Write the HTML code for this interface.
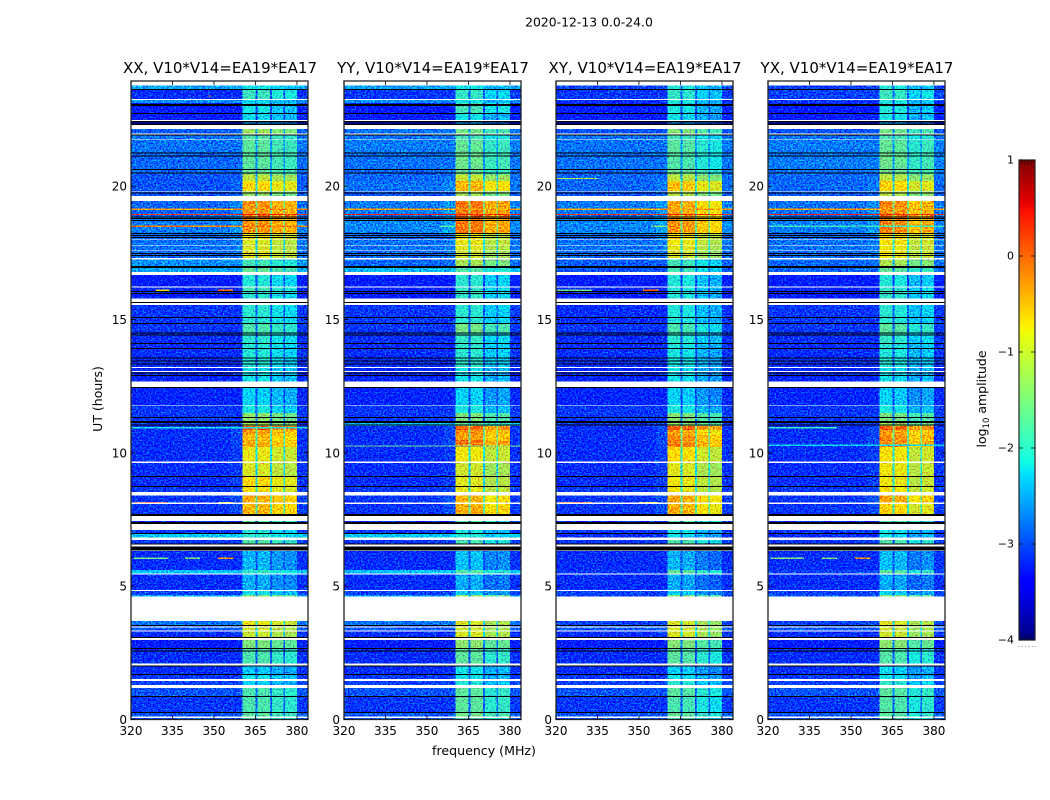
<!DOCTYPE html>
<html lang="en">
<head>
<meta charset="utf-8">
<title>2020-12-13 0.0-24.0 dynamic spectra</title>
<style>
html,body{margin:0;padding:0;background:#fff;width:1050px;height:800px;overflow:hidden}
svg{display:block}
text{font-family:"DejaVu Sans","Liberation Sans",sans-serif;fill:#000}
</style>
</head>
<body>
<svg id="figure" xmlns="http://www.w3.org/2000/svg" width="1050" height="800" viewBox="0 0 1050 800">
  <defs>
    <filter id="speckle" x="0" y="0" width="100%" height="100%" color-interpolation-filters="sRGB">
      <feTurbulence type="fractalNoise" baseFrequency="0.6 0.65" numOctaves="1" seed="4" result="n"/>
      <feColorMatrix in="n" type="matrix" values="0 0 0 0 .5  0 1.7 0 0 -.41  0 0 0 0 .5  0 0 0 0 1" result="g"/>
      <feComposite in="SourceGraphic" in2="g" operator="arithmetic" k1="0" k2="1" k3="1" k4="-.5" result="r"/>
      <feComposite in="r" in2="SourceAlpha" operator="in"/>
    </filter>
  </defs>
  <text x="589" y="26.5" font-size="12.4" text-anchor="middle">2020-12-13 0.0-24.0</text>
  <text x="484" y="755" font-size="12.6" text-anchor="middle">frequency (MHz)</text>
  <text x="102" y="399" font-size="12.5" text-anchor="middle" transform="rotate(-90 102 399)">UT (hours)</text>
  <text x="986" y="399" font-size="12.5" text-anchor="middle" transform="rotate(-90 986 399)">log<tspan font-size="8.5" dy="3">10</tspan><tspan dy="-3"> amplitude</tspan></text>
  <g id="panels"></g>
  <g id="colorbar"></g>
</svg>
<script>
// ---- categories ----
const polarizations = ["XX", "YY", "XY", "YX"];
const baselineLabel = "V10*V14=EA19*EA17";
const freqTicks = [320, 335, 350, 365, 380];
const timeTicks = [0, 5, 10, 15, 20];
const colorbarTicks = [1, 0, -1, -2, -3, -4];

// ---- frequency columns (MHz) ----
const columnFrom = [320, 356, 360.4, 365.1, 365.8, 370.2, 370.9, 375.2, 375.6, 380];
const columnTo = [356, 360.4, 365.1, 365.8, 370.2, 370.9, 375.2, 375.6, 380, 384];

// ---- scan rows (UT hours) ----
const scanEnd = [23.77,23.63,23.22,23.11,22.72,22.44,22.14,21.94,21.73,21.24,20.64,20.435,20.19,19.79,19.44,18.92,18.77,18.22,17.98,17.765,17.59,17.25,16.95,16.67,16.19,16.03,15.54,14.87,14.49,14.04,13.22,12.47,11.77,11.49,11.12,11.0,10.855,10.67,10.48,10.22,9.62,9.09,8.72,8.40,8.08,7.44,7.11,6.96,6.73,6.32,5.61,5.44,4.81,4.67,3.69,3.51,3.32,2.98,2.64,1.99,1.67,1.44,1.18,0.84,0.25,0.056];
const scanStart = [23.63,23.26,23.11,22.75,22.48,22.29,21.98,21.755,21.24,20.64,20.435,20.19,19.82,19.63,18.92,18.77,18.24,18.0,17.79,17.60,17.30,16.97,16.78,16.23,16.03,15.79,14.87,14.49,14.04,13.22,12.67,11.79,11.49,11.12,11.0,10.855,10.67,10.48,10.22,9.67,9.13,8.74,8.53,8.12,7.71,7.39,6.98,6.825,6.58,5.61,5.48,4.86,4.67,4.61,3.54,3.32,3.075,2.68,2.1,1.71,1.51,1.29,0.88,0.28,0.11,0];

// ---- background log10 amplitude per scan ----
const backgroundXX = [-2.5,-3.1,-2.6,-3.2,-3.2,-3.3,-2.85,-2.75,-2.75,-2.8,-2.8,-2.9,-2.9,-2.9,-2.8,-2.75,-2.7,-2.8,-2.75,-2.75,-2.8,-2.6,-2.5,-3.2,-3.15,-3.2,-3.05,-3.05,-3.1,-3.1,-3.15,-3.15,-3.05,-3.05,-3.05,-3.1,-3.1,-3.1,-3.1,-3.1,-3.1,-3.1,-3.05,-3.05,-3.05,-3.1,-3.05,-2.3,-3.05,-3.1,-2.35,-3.1,-3.0,-2.5,-2.75,-2.9,-3.1,-3.2,-3.1,-3.1,-3.05,-3.0,-2.9,-3.05,-2.9,-2.9];
const backgroundYY = [-2.5,-3.05,-2.6,-3.2,-3.2,-3.3,-2.75,-2.75,-2.7,-2.75,-2.8,-2.8,-2.75,-2.9,-2.7,-2.75,-2.65,-2.8,-2.75,-2.75,-2.8,-2.8,-2.4,-3.2,-3.15,-3.2,-3.05,-3.05,-3.1,-3.1,-3.15,-3.15,-3.05,-3.05,-2.4,-3.1,-3.1,-3.1,-3.1,-3.1,-3.1,-3.1,-3.05,-3.05,-3.05,-3.1,-3.05,-2.3,-3.05,-3.1,-2.35,-3.1,-3.0,-2.6,-2.75,-2.9,-3.1,-3.2,-3.1,-3.1,-3.05,-3.0,-2.9,-3.05,-2.9,-2.9];
const backgroundXY = [-3.0,-3.05,-3.1,-3.2,-3.2,-3.3,-2.9,-2.75,-2.75,-2.75,-2.8,-2.8,-2.8,-2.9,-2.7,-2.75,-2.65,-2.8,-2.75,-2.75,-2.8,-2.85,-2.9,-3.2,-3.15,-3.2,-3.1,-3.05,-3.1,-3.1,-3.15,-3.15,-3.05,-3.05,-3.05,-3.1,-3.1,-3.1,-3.1,-3.1,-3.1,-3.1,-3.05,-3.05,-3.05,-3.1,-3.05,-3.1,-3.05,-3.1,-3.05,-3.1,-3.0,-3.0,-3.0,-2.9,-3.1,-3.2,-3.1,-3.1,-3.05,-3.0,-2.9,-3.05,-2.9,-2.9];
const backgroundYX = [-3.0,-3.0,-3.05,-3.2,-3.2,-3.3,-2.9,-2.75,-2.7,-2.7,-2.75,-2.8,-2.8,-2.85,-2.75,-2.75,-2.7,-2.8,-2.75,-2.75,-2.8,-2.8,-2.8,-3.2,-3.15,-3.2,-3.05,-3.05,-3.1,-3.1,-3.15,-3.15,-3.05,-3.05,-3.05,-3.1,-3.1,-3.1,-3.1,-3.1,-3.1,-3.1,-3.05,-3.05,-3.05,-3.1,-3.05,-3.1,-3.05,-3.1,-3.0,-3.1,-3.0,-2.9,-3.0,-2.9,-3.1,-3.2,-3.1,-3.1,-3.05,-3.0,-2.9,-3.05,-2.9,-2.9];

// ---- astronomical band log10 amplitude per scan ----
const bandXX = [-2.2,-1.95,-2.3,-2.2,-2.25,-2.5,-1.35,-1.8,-1.75,-1.75,-1.7,-1.15,-0.75,-1.4,-0.35,-0.15,-0.35,-0.85,-1.0,-1.0,-0.95,-1.9,-1.7,-2.1,-1.9,-2.05,-2.05,-1.85,-2.05,-2.1,-2.2,-2.3,-2.15,-1.45,-1.3,0,-0.45,-0.6,-0.5,-0.9,-1.0,-0.75,-0.8,-0.5,-0.55,-1.8,-2.1,-2.05,-1.8,-2.45,-2.0,-2.5,-2.2,-1.5,-0.9,-1.05,-1.1,-1.55,-1.85,-2.35,-2.2,-2.3,-1.85,-1.85,-1.75,-1.9];
const bandYY = [-2.2,-2.0,-2.2,-1.9,-2.2,-2.5,-1.6,-1.9,-1.7,-1.65,-1.7,-1.1,-0.55,-1.3,-0.2,-0.05,-0.2,-0.9,-0.9,-0.95,-1.05,-1.3,-1.8,-2.05,-2.0,-2.0,-2.05,-1.6,-2.0,-2.05,-2.2,-2.3,-2.15,-1.55,-1.7,-0.1,-0.35,-0.4,-0.2,-0.85,-1.05,-0.95,-0.9,-0.55,-0.5,-1.8,-2.15,-2.1,-1.85,-2.4,-1.8,-2.5,-2.35,-1.4,-1.0,-1.05,-1.0,-1.45,-1.75,-2.2,-2.2,-2.1,-1.75,-1.75,-1.6,-1.9];
const bandXY = [-2.1,-2.0,-2.1,-2.15,-2.2,-2.5,-1.5,-1.9,-1.75,-1.8,-1.65,-1.15,-0.6,-1.2,-0.45,-0.4,-0.35,-0.8,-0.85,-0.9,-1.0,-1.9,-1.9,-2.1,-2.1,-2.1,-2.1,-1.85,-2.05,-2.15,-2.2,-2.3,-2.15,-1.5,-1.4,-0.05,-0.45,-0.3,-0.25,-0.75,-0.95,-0.85,-0.85,-0.45,-0.5,-1.8,-2.15,-2.2,-1.8,-2.45,-1.7,-2.5,-2.3,-1.5,-1.0,-1.0,-1.0,-1.5,-1.75,-2.3,-2.2,-2.05,-1.75,-1.85,-1.7,-1.9];
const bandYX = [-2.1,-1.95,-2.1,-2.1,-2.15,-2.5,-1.6,-1.85,-1.7,-1.65,-1.6,-1.15,-0.7,-1.2,-0.3,-0.1,-0.25,-0.75,-0.8,-0.85,-0.85,-1.25,-1.7,-2.1,-2.0,-2.0,-2.05,-1.75,-2.0,-2.1,-2.2,-2.3,-2.15,-1.55,-1.3,-0.05,-0.4,-0.3,-0.3,-0.8,-0.85,-0.85,-0.8,-0.45,-0.7,-1.8,-2.2,-2.2,-1.8,-2.4,-1.75,-2.5,-2.3,-1.5,-0.95,-1.05,-1.05,-1.45,-1.8,-2.25,-2.2,-2.0,-1.75,-1.8,-1.75,-1.9];

// ---- per-polarization offsets for the four subbands ----
const subbandOffsetXX = [0.05, 0.05, -0.1, -0.15];
const subbandOffsetYY = [0.05, 0.05, -0.25, -0.2];
const subbandOffsetXY = [0.05, 0, -0.25, -0.35];
const subbandOffsetYX = [0.05, 0, -0.3, -0.2];

// ---- flagged single integrations (UT hours) ----
const flaggedBlack = [23.62,23.06,23.015,22.73,22.42,22.366,22.31,21.91,21.24,21.13,20.62,20.49,19.75,18.85,18.785,18.71,18.215,18.14,18.07,17.48,17.4,16.98,16.95,16.04,15.97,15.635,15.07,14.85,14.49,14.41,14.09,13.91,13.55,13.45,13.33,12.99,12.905,12.44,11.32,11.17,11.13,11.04,9.11,8.73,7.68,7.65,7.38,7.34,6.97,6.58,6.47,6.43,6.39,6.35,3.52,3.07,2.66,2.57,2.0,1.69,0.87,0.27];
const flaggedBlank = [15.57,13.2,13.05,8.43,8.12,3.46,3.32,2.06,6.54];

// ---- narrow-band interference lines ----
const rfiPanel = [0,0,0,0,0,0,0,0,0,0,0,1,1,1,1,2,2,2,2,2,2,2,2,3,3,3,3,3,3,3,3,0];
const rfiTime = [19.13,18.94,18.5,16.1,16.1,10.94,8.13,8.13,6.05,6.05,6.05,19.13,18.94,18.5,10.26,19.13,18.94,18.5,20.29,8.13,8.13,16.1,16.1,19.13,18.94,18.5,10.94,10.28,6.05,6.05,6.05,23.38];
const rfiFrom = [320,320,320,329,351.4,320,321,351.5,321,339.5,351.5,320,320,354.5,320,320,320,354.5,320,321,350,351.5,320,320,320,320,320,320,321,339.5,351.5,348];
const rfiTo = [384,384,384,334,356.8,384,333,356.8,333.4,345,357,384,384,360,384,384,384,360,335,333,357,357,333,384,384,384,345,384,333,345,357,349];
const rfiLevel = [-0.35,0.3,-0.2,-0.8,-0.1,-2.1,0.3,-0.8,-1.6,-1.5,-0.3,-0.4,0.35,-1.7,-1.6,-0.4,0.3,-1.5,-1.2,0,-0.8,0,-1.6,-0.4,0.3,-1.9,-1.9,-2.2,-1.5,-1.5,-0.3,-0.5];

// ---- axes ----
const SVG_NS = "http://www.w3.org/2000/svg";
const FREQ_MIN = 320, FREQ_MAX = 384, AMP_MIN = -4, AMP_MAX = 1;
const PANEL_WIDTH = 177, PLOT_BOTTOM = 719.5, PLOT_TOP = 81, PX_PER_HOUR = 26.67;
const panelLeft = i => Math.ceil(131 + 212.3 * i);
const xScale = (i, f) => panelLeft(i) + (f - FREQ_MIN) / (FREQ_MAX - FREQ_MIN) * PANEL_WIDTH;
const yScale = t => Math.max(PLOT_TOP, PLOT_BOTTOM - t * PX_PER_HOUR);
const ampScale = v => 160 + (AMP_MAX - v) / (AMP_MAX - AMP_MIN) * 480;

function jetPart(x, pts) {
  for (let k = 1; k < pts.length; k++) {
    if (x <= pts[k][0]) {
      const a = pts[k - 1], b = pts[k];
      return a[1] + (b[1] - a[1]) * (x - a[0]) / (b[0] - a[0]);
    }
  }
  return pts[pts.length - 1][1];
}
function jetColor(v) {
  const x = Math.min(1, Math.max(0, (v - AMP_MIN) / (AMP_MAX - AMP_MIN)));
  const r = jetPart(x, [[0, 0], [0.35, 0], [0.66, 1], [0.89, 1], [1, 0.5]]);
  const g = jetPart(x, [[0, 0], [0.125, 0], [0.375, 1], [0.64, 1], [0.91, 0], [1, 0]]);
  const b = jetPart(x, [[0, 0.5], [0.11, 1], [0.34, 1], [0.65, 0], [1, 0]]);
  return "rgb(" + Math.round(r * 255) + "," + Math.round(g * 255) + "," + Math.round(b * 255) + ")";
}
function make(tag, attrs, parent) {
  const el = document.createElementNS(SVG_NS, tag);
  for (const k in attrs) el.setAttribute(k, attrs[k]);
  parent.appendChild(el);
  return el;
}
function columnLevel(col, bg, band, off) {
  if (col === 0) return bg;
  if (col === 1) return bg + 0.12 * Math.max(0, band + 1.5);
  if (col === 9) return bg + 0.03;
  if (col % 2 === 0) return band + off[col / 2 - 1];
  return Math.max(bg + 0.2, band - 1.25);
}

const backgrounds = [backgroundXX, backgroundYY, backgroundXY, backgroundYX];
const bands = [bandXX, bandYY, bandXY, bandYX];
const offsets = [subbandOffsetXX, subbandOffsetYY, subbandOffsetXY, subbandOffsetYX];
const panelsRoot = document.getElementById("panels");

polarizations.forEach((pol, p) => {
  const panel = make("g", {}, panelsRoot);
  
  

  const left = panelLeft(p), right = left + PANEL_WIDTH;
  const heat = make("g", { filter: "url(#speckle)", "shape-rendering": "crispEdges" }, panel);
  
  

  scanStart.forEach((start, s) => {
    const y0 = yScale(scanEnd[s]), y1 = yScale(start);
    columnFrom.forEach((from, c) => {
      const x0 = xScale(p, from), x1 = xScale(p, columnTo[c]);
      const cell = make("rect", {
        x: x0.toFixed(2), y: y0.toFixed(2),
        width: (x1 - x0).toFixed(2), height: (y1 - y0).toFixed(2),
        fill: jetColor(columnLevel(c, backgrounds[p][s], bands[p][s], offsets[p]))
      }, heat);
      
      
    });
  });

  rfiPanel.forEach((owner, r) => {
    if (owner !== p) return;
    const x0 = xScale(p, rfiFrom[r]), x1 = xScale(p, rfiTo[r]);
    const line = make("rect", {
      x: x0.toFixed(2), y: (yScale(rfiTime[r]) - 0.6).toFixed(2),
      width: (x1 - x0).toFixed(2), height: 1.3, fill: jetColor(rfiLevel[r])
    }, heat);
    
    
  });

  flaggedBlank.forEach(t => {
    const line = make("rect", { x: left, y: (yScale(t) - 0.5).toFixed(2), width: PANEL_WIDTH, height: 1, fill: "#fff", "shape-rendering": "crispEdges" }, panel);
    
    
  });
  flaggedBlack.forEach(t => {
    const line = make("rect", { x: left, y: (yScale(t) - 0.5).toFixed(2), width: PANEL_WIDTH, height: 1, fill: "#000", "shape-rendering": "crispEdges" }, panel);
    
    
  });

  const frame = make("rect", { x: left, y: PLOT_TOP, width: PANEL_WIDTH, height: PLOT_BOTTOM - PLOT_TOP, fill: "none", stroke: "#222", "stroke-width": 1.3 }, panel);
  
  

  freqTicks.forEach(f => {
    const x = xScale(p, f);
    const tick = make("path", { d: "M" + x + " " + PLOT_BOTTOM + "v-4M" + x + " " + PLOT_TOP + "v4", stroke: "#000", fill: "none", "stroke-width": 0.8 }, panel);
    
    
    const label = make("text", { x: x, y: 735, "font-size": 12, "text-anchor": "middle" }, panel);
    label.textContent = f;
    
    
  });
  timeTicks.forEach(t => {
    const y = yScale(t);
    const tick = make("path", { d: "M" + left + " " + y + "h4M" + right + " " + y + "h-4", stroke: "#000", fill: "none", "stroke-width": 0.8 }, panel);
    
    
    const label = make("text", { x: left - 4, y: y + 4.5, "font-size": 12, "text-anchor": "end" }, panel);
    label.textContent = t;
    
    
  });

  const title = make("text", { x: left + PANEL_WIDTH / 2 + 0.5, y: 73, "font-size": 15, "text-anchor": "middle" }, panel);
  title.textContent = pol + ", " + baselineLabel;
  
  
});

// ---- colorbar ----
const cbRoot = document.getElementById("colorbar");
const CB_LEFT = 1019, CB_WIDTH = 16;
const cbGradient = make("g", { "shape-rendering": "crispEdges" }, cbRoot);


for (let k = 0; k < 240; k++) {
  const v = AMP_MAX - (k + 0.5) * (AMP_MAX - AMP_MIN) / 240;
  const step = make("rect", { x: CB_LEFT, y: (160 + k * 2).toFixed(1), width: CB_WIDTH, height: 2.2, fill: jetColor(v) }, cbGradient);
  
  
}
const cbFrame = make("rect", { x: CB_LEFT, y: 160, width: CB_WIDTH, height: 480, fill: "none", stroke: "#222", "stroke-width": 1.2 }, cbRoot);


colorbarTicks.forEach(v => {
  const y = ampScale(v);
  const tick = make("path", { d: "M" + CB_LEFT + " " + y + "h4M" + (CB_LEFT + CB_WIDTH) + " " + y + "h-4", stroke: "#000", fill: "none", "stroke-width": 0.8 }, cbRoot);
  
  
  const label = make("text", { x: 1014, y: y + 3.5, "font-size": 11, "text-anchor": "end" }, cbRoot);
  label.textContent = String(v).replace("-", "\u2212");
  
  
});
[1022, 1025, 1028, 1031].forEach(x => {
  const minor = make("path", { d: "M" + x + " 160v5M" + x + " 640v-5", stroke: "#000", fill: "none", "stroke-width": 0.7, opacity: 0.7 }, cbRoot);
  
  
});
[1018, 1021.5, 1025, 1028.5, 1032, 1034.5].forEach(x => {
  const dot = make("rect", { x: x, y: 646, width: 1, height: 1, fill: "#999" }, cbRoot);
  
  
});
</script>
</body>
</html>
